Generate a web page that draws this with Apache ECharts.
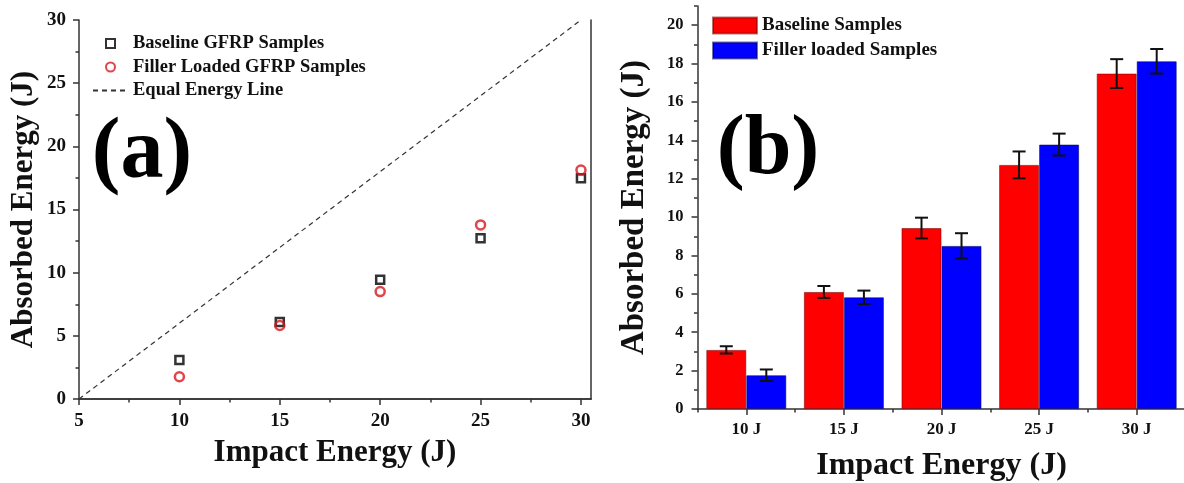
<!DOCTYPE html>
<html>
<head>
<meta charset="utf-8">
<script src="https://cdn.jsdelivr.net/npm/echarts@6/dist/echarts.min.js"></script>
<style>
html,body{margin:0;padding:0;background:#fff;}
#chart{width:1184px;height:483px;}
</style>
</head>
<body>
<div id="chart"></div>
<script>
// ---------- data ----------
const impactEnergies = [10, 15, 20, 25, 30];
const categories = ['10 J', '15 J', '20 J', '25 J', '30 J'];
const baseline = [3.08, 6.1, 9.43, 12.72, 17.48];
const filler = [1.76, 5.82, 8.5, 13.78, 18.12];
const baselineErr = [0.19, 0.31, 0.54, 0.7, 0.75];
const fillerErr = [0.3, 0.35, 0.66, 0.57, 0.64];
const equalLineX = [5, 30];
const equalLineY = [0, 30];
const xMajorA = [5, 10, 15, 20, 25, 30];
const xMinorA = [7.5, 12.5, 17.5, 22.5, 27.5];
const yMajorB = [0, 2, 4, 6, 8, 10, 12, 14, 16, 18, 20];
const yMinorB = [1, 3, 5, 7, 9, 11, 13, 15, 17, 19, 21];

const FONT = '"Liberation Serif", "Times New Roman", serif';
const AX = '#333';
const TXT = '#111';
const GAP_B = 0.18;

const gridA = {left: 79, top: 20, width: 512, height: 379, outerBoundsMode: 'none', containLabel: false};
const gridB = {left: 697.5, top: 6, width: 488, height: 403, outerBoundsMode: 'none', containLabel: false};

function errSeries(name, vals, errs, sign) {
  return {
    type: 'custom', name: name + ' err', xAxisIndex: 4, yAxisIndex: 4, z: 5,
    data: vals.map((v, i) => [i, v - errs[i], v + errs[i]]),
    renderItem(params, api) {
      const i = api.value(0);
      const lo = api.coord([i, api.value(1)]);
      const hi = api.coord([i, api.value(2)]);
      const catW = api.size([1, 0])[0];
      const bw = catW * (1 - GAP_B) / 2;
      const x = lo[0] + sign * bw / 2;
      const cap = 6.5;
      const st = {stroke: '#111', lineWidth: 2};
      return {type: 'group', children: [
        {type: 'line', shape: {x1: x, y1: lo[1], x2: x, y2: hi[1]}, style: st},
        {type: 'line', shape: {x1: x - cap, y1: lo[1], x2: x + cap, y2: lo[1]}, style: st},
        {type: 'line', shape: {x1: x - cap, y1: hi[1], x2: x + cap, y2: hi[1]}, style: st}
      ]};
    }
  };
}

const labelA = {fontFamily: FONT, fontWeight: 'bold', fontSize: 19, color: TXT};
const labelB = {fontFamily: FONT, fontWeight: 'bold', fontSize: 16.5, color: TXT};
const nameStyle = {fontFamily: FONT, fontWeight: 'bold', fontSize: 31, color: TXT};

const option = {
  animation: false,
  backgroundColor: '#fff',
  grid: [
    Object.assign({}, gridA),
    Object.assign({}, gridA),
    Object.assign({}, gridA),
    Object.assign({}, gridB),
    Object.assign({}, gridB),
    Object.assign({}, gridB)
  ],
  xAxis: [
    {type: 'value', gridIndex: 0, min: 5, max: 30.5, position: 'bottom',
     axisLine: {show: true, lineStyle: {color: AX, width: 1.5}},
     axisTick: {show: true, length: 6, customValues: xMajorA, lineStyle: {color: AX, width: 1.5}},
     axisLabel: {customValues: xMajorA, margin: 13, ...labelA},
     splitLine: {show: false},
     name: 'Impact Energy (J)', nameLocation: 'middle', nameGap: 38, nameTextStyle: nameStyle},
    {type: 'value', gridIndex: 1, min: 5, max: 30.5, position: 'bottom',
     axisLine: {show: false},
     axisTick: {show: true, length: 3.5, customValues: xMinorA, lineStyle: {color: AX, width: 1.5}},
     axisLabel: {show: false}, splitLine: {show: false}},
    {type: 'value', gridIndex: 2, min: 5, max: 30.5, position: 'top',
     axisLine: {show: true, lineStyle: {color: AX, width: 1.5}},
     axisTick: {show: false}, axisLabel: {show: false}, splitLine: {show: false}},
    {type: 'category', gridIndex: 3, data: categories, boundaryGap: true, position: 'bottom',
     axisLine: {show: false},
     axisTick: {show: true, length: 3.5, alignWithLabel: false, lineStyle: {color: AX, width: 1.5}},
     axisLabel: {show: false}},
    {type: 'category', gridIndex: 4, data: categories, boundaryGap: true, position: 'bottom',
     axisLine: {show: true, lineStyle: {color: AX, width: 1.5}},
     axisTick: {show: true, length: 6, alignWithLabel: true, lineStyle: {color: AX, width: 1.5}},
     axisLabel: {margin: 12, ...labelB, fontSize: 17},
     name: 'Impact Energy (J)', nameLocation: 'middle', nameGap: 41,
     nameTextStyle: Object.assign({}, nameStyle, {fontSize: 32})},
    {type: 'category', gridIndex: 5, data: categories, show: false}
  ],
  yAxis: [
    {type: 'value', gridIndex: 0, min: 0, max: 30, interval: 5, position: 'left',
     axisLine: {show: true, lineStyle: {color: AX, width: 1.5}},
     axisTick: {show: true, length: 6, lineStyle: {color: AX, width: 1.5}},
     minorTick: {show: true, splitNumber: 2, length: 3.5, lineStyle: {color: AX, width: 1.5}},
     axisLabel: {margin: 13, ...labelA},
     splitLine: {show: false},
     name: 'Absorbed Energy (J)', nameLocation: 'middle', nameGap: 40, nameTextStyle: nameStyle},
    {type: 'value', gridIndex: 1, min: 0, max: 30, show: false},
    {type: 'value', gridIndex: 2, min: 0, max: 30, position: 'right',
     axisLine: {show: true, lineStyle: {color: AX, width: 1.5}},
     axisTick: {show: false}, axisLabel: {show: false}, splitLine: {show: false}},
    {type: 'value', gridIndex: 3, min: 0, max: 21, show: false},
    {type: 'value', gridIndex: 4, min: 0, max: 21, position: 'left',
     axisLine: {show: true, lineStyle: {color: AX, width: 1.5}},
     axisTick: {show: true, length: 6, customValues: yMajorB, lineStyle: {color: AX, width: 1.5}},
     axisLabel: {customValues: yMajorB, margin: 14, ...labelB},
     splitLine: {show: false},
     name: 'Absorbed Energy (J)', nameLocation: 'middle', nameGap: 47,
     nameTextStyle: Object.assign({}, nameStyle, {fontSize: 33})},
    {type: 'value', gridIndex: 5, min: 0, max: 21, position: 'left',
     axisLine: {show: false},
     axisTick: {show: true, length: 3.5, customValues: yMinorB, lineStyle: {color: AX, width: 1.5}},
     axisLabel: {show: false}, splitLine: {show: false}}
  ],
  legend: [
    {orient: 'vertical', left: 92, top: 34, padding: 0, itemWidth: 35, itemHeight: 9, itemGap: 4.5,
     textStyle: {fontFamily: FONT, fontWeight: 'bold', fontSize: 18.5, color: TXT},
     data: [
       {name: 'Baseline GFRP Samples', icon: 'path://M0,0H10V10H0Z'},
       {name: 'Filler Loaded GFRP Samples', icon: 'circle'},
       {name: 'Equal Energy Line', itemStyle: {opacity: 0}}
     ]},
    {orient: 'vertical', left: 712, top: 16, padding: 0, itemWidth: 44, itemHeight: 16, itemGap: 6,
     textStyle: {fontFamily: FONT, fontWeight: 'bold', fontSize: 19, color: TXT},
     data: [
       {name: 'Baseline Samples', icon: 'rect'},
       {name: 'Filler loaded Samples', icon: 'rect'}
     ]}
  ],
  series: [
    {type: 'line', name: 'Equal Energy Line', xAxisIndex: 0, yAxisIndex: 0,
     data: equalLineX.map((x, i) => [x, equalLineY[i]]),
     symbol: 'none', showSymbol: false,
     lineStyle: {color: '#333', width: 1.2, type: [5, 4]}, z: 1},
    {type: 'scatter', name: 'Baseline GFRP Samples', xAxisIndex: 0, yAxisIndex: 0,
     data: impactEnergies.map((x, i) => [x, baseline[i]]),
     symbol: 'rect', symbolSize: 8,
     itemStyle: {color: 'rgba(255,255,255,0)', borderColor: '#000', borderWidth: 2.5}, z: 3},
    {type: 'scatter', name: 'Filler Loaded GFRP Samples', xAxisIndex: 0, yAxisIndex: 0,
     data: impactEnergies.map((x, i) => [x, filler[i]]),
     symbol: 'circle', symbolSize: 9,
     itemStyle: {color: 'rgba(255,255,255,0)', borderColor: '#d8161f', borderWidth: 2.5}, z: 4},
    {type: 'bar', name: 'Baseline Samples', xAxisIndex: 4, yAxisIndex: 4,
     data: baseline, barGap: '0%', barCategoryGap: (GAP_B * 100) + '%',
     itemStyle: {color: '#ff0000', borderColor: 'rgba(120,0,0,0.55)', borderWidth: 1}},
    {type: 'bar', name: 'Filler loaded Samples', xAxisIndex: 4, yAxisIndex: 4,
     data: filler, barGap: '0%', barCategoryGap: (GAP_B * 100) + '%',
     itemStyle: {color: '#0000ff', borderColor: 'rgba(0,0,100,0.55)', borderWidth: 1}},
    errSeries('Baseline Samples', baseline, baselineErr, -1),
    errSeries('Filler loaded Samples', filler, fillerErr, 1)
  ],
  graphic: [
    {type: 'text', x: 142, y: 155, z: 10,
     style: {text: '(a)', font: 'bold 86px ' + FONT, fill: '#000', align: 'center', verticalAlign: 'middle'}},
    {type: 'text', x: 768, y: 151, z: 10,
     style: {text: '(b)', font: 'bold 84px ' + FONT, fill: '#000', align: 'center', verticalAlign: 'middle'}}
  ]
};

const chart = echarts.init(document.getElementById('chart'), null, {renderer: 'canvas'});
chart.setOption(option);
</script>
</body>
</html>
